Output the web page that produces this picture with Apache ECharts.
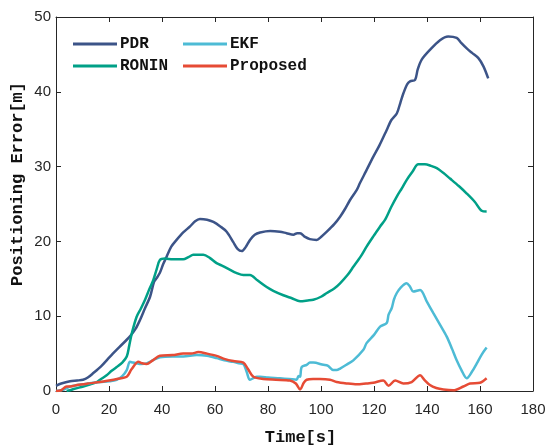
<!DOCTYPE html>
<html>
<head>
<meta charset="utf-8">
<script src="https://cdn.jsdelivr.net/npm/echarts@6/dist/echarts.min.js"></script>
<style>html,body{margin:0;padding:0;background:#fff;}#chart{width:547px;height:445px;}</style>
</head>
<body>
<div id="chart"></div>
<script>
var seriesNames = ['PDR', 'RONIN', 'EKF', 'Proposed'];
var xTicks = [0, 20, 40, 60, 80, 100, 120, 140, 160, 180];
var yTicks = [0, 10, 20, 30, 40, 50];

var pdrData = [[0,0.7],[2,1.0],[5.3,1.3],[8,1.4],[10.2,1.5],[12,1.8],[14.1,2.4],[17,3.3],[20.4,4.6],[24,5.9],[27.9,7.3],[30,8.3],[31.7,9.5],[33.5,11],[35.5,12.6],[37,14.6],[38,15.1],[39.2,15.8],[40.5,17],[41.8,18],[43.5,19.3],[45.5,20.2],[48,21.2],[50.6,22],[52.5,22.7],[54.3,23],[57,22.9],[59.4,22.6],[62,22],[64.4,21.3],[66.9,19.9],[68.5,19],[70.1,18.7],[71.5,19.2],[73.2,20.2],[75,20.9],[77,21.2],[80.8,21.4],[84.5,21.3],[87,21.1],[89.6,20.9],[91,21.1],[92.1,21.1],[94,20.6],[95.8,20.3],[98.4,20.2],[100,20.6],[102.2,21.3],[105,22.3],[107.2,23.3],[109,24.3],[110.9,25.5],[113.5,26.9],[114.7,27.8],[117,29.4],[119.7,31.3],[122,32.8],[124.8,34.9],[126.5,36.2],[128.6,37.1],[130,38.6],[131.1,39.8],[132.5,41],[133.6,41.4],[135.5,41.6],[136.5,43],[138,44.3],[141.1,45.6],[144.9,46.9],[148,47.4],[151.2,47.2],[153,46.5],[155,45.8],[157,45.2],[159.4,44.5],[161.3,43.4],[163.1,41.8]];

var roninData = [[4,0],[5.3,0.1],[7,0.3],[10.3,0.6],[13,0.9],[15.4,1.2],[17,1.6],[19.1,2.1],[21,2.7],[22.9,3.2],[25,3.8],[26.7,4.6],[27.6,6],[28.6,7.7],[30.4,9.9],[32,11],[33.6,12.2],[35.2,13.6],[36.7,14.8],[38,16.3],[39.2,17.5],[41.1,17.7],[44,17.6],[48,17.6],[50,17.9],[51.8,18.2],[55.6,18.2],[58,17.8],[60.6,17.1],[63,16.7],[65.7,16.2],[68,15.8],[70.7,15.5],[73.2,15.5],[76,14.8],[79.5,13.9],[82,13.4],[85.8,12.8],[89,12.4],[92.1,12],[95,12.1],[97.1,12.2],[100,12.6],[102.2,13.1],[105,13.7],[107.2,14.4],[110,15.5],[112.2,16.6],[115,18],[117.2,19.3],[120,20.8],[122.3,22],[124.2,22.9],[126.5,24.6],[128.6,26],[130.5,27.1],[132.3,28.2],[134.5,29.3],[136.7,30.3],[139.2,30.3],[141.5,30.1],[143.7,29.8],[146,29.2],[148.7,28.4],[152,27.4],[155,26.4],[158,25.3],[160.6,24.1],[162.5,24]];

var ekfData = [[0,0],[3,0.2],[5.3,0.6],[8,0.8],[12,1.0],[16.6,1.2],[20,1.3],[22.9,1.5],[25,2],[26.7,2.8],[27.9,3.9],[29,3.8],[30.4,3.7],[32,3.6],[34.2,3.7],[36.5,4.1],[39.2,4.5],[44,4.6],[48,4.6],[53.1,4.8],[57,4.7],[60.6,4.4],[63.5,4.1],[66.9,3.9],[69,3.7],[70.7,3.6],[72,2.5],[73.2,1.5],[75.7,1.9],[77,1.9],[80,1.8],[84.5,1.7],[88,1.6],[90.8,1.5],[91.5,2],[92.1,1.9],[92.7,3.2],[94.6,3.5],[95.8,3.8],[97.1,3.8],[100.9,3.5],[102.5,3.4],[104.6,2.8],[105.9,2.8],[107.2,3.0],[110,3.6],[112.2,4.1],[116,5.5],[117.2,6.4],[120,7.5],[122.3,8.6],[124.8,9.1],[125.5,10.2],[126.7,11.1],[127.5,12.2],[128.6,13.1],[130,13.8],[132.3,14.4],[133.5,14],[134.8,13.3],[137.4,13.5],[140,11.9],[142.4,10.4],[145,8.8],[147.4,7.3],[149.5,5.6],[151.2,4.1],[153,2.8],[155,1.7],[157,2.6],[158.8,3.7],[160.7,4.9],[162.5,5.8]];

var proposedData = [[0,0],[2,0.1],[4,0.6],[5.3,0.6],[8,0.8],[12,1.0],[16.6,1.2],[20,1.4],[23,1.6],[26.7,1.9],[28.5,2.9],[31.1,3.9],[32.5,3.7],[34.2,3.6],[36.5,4.1],[39.2,4.7],[44,4.8],[48,5.0],[51,5.0],[53.7,5.2],[57,5.0],[60.6,4.7],[63.5,4.3],[66.9,4.0],[70.7,3.8],[72.5,2.9],[74.5,1.9],[78.2,1.6],[83,1.5],[88.3,1.4],[90.5,1.0],[92.1,0.2],[93.5,1.1],[94.6,1.5],[97,1.6],[99.6,1.6],[103.4,1.5],[105.9,1.2],[110,1.0],[113.5,0.9],[117,1.0],[119.7,1.1],[123.5,1.4],[125.5,0.7],[128,1.4],[131.1,1.0],[134.2,1.2],[137.4,2.1],[139,1.5],[141.1,0.8],[143.5,0.4],[146.2,0.2],[149.9,0.1],[153.7,0.6],[156.2,1.0],[160,1.1],[162.5,1.7]];

var colors = {PDR:'#3C5488', RONIN:'#00A087', EKF:'#4DBBD5', Proposed:'#E64B35'};
var dataMap = {PDR: pdrData, RONIN: roninData, EKF: ekfData, Proposed: proposedData};
var drawOrder = ['PDR', 'RONIN', 'EKF', 'Proposed'];

var axisColor = '#262626';
var tickFont = {fontFamily: 'Liberation Sans, Arial, sans-serif', fontSize: 15, color: '#262626'};
var monoBold = {fontFamily: 'Liberation Mono, Courier New, monospace', fontWeight: 'bold', color: '#111'};

function xAxisCfg(pos, showLabel) {
  return {
    type: 'value', position: pos, min: xTicks[0], max: xTicks[xTicks.length-1], interval: 20,
    splitLine: {show: false},
    axisLine: {show: true, onZero: false, lineStyle: {color: axisColor, width: 1}},
    axisTick: {show: true, inside: true, length: 5, lineStyle: {color: axisColor}},
    axisLabel: Object.assign({show: showLabel, margin: 11}, tickFont),
    name: showLabel ? 'Time[s]' : '', nameLocation: 'middle', nameGap: 38,
    nameMoveOverlap: false,
    nameTextStyle: Object.assign({fontSize: 17, padding: [0,0,0,12]}, monoBold)
  };
}
function yAxisCfg(pos, showLabel) {
  return {
    type: 'value', position: pos, min: yTicks[0], max: yTicks[yTicks.length-1], interval: 10,
    splitLine: {show: false},
    axisLine: {show: true, onZero: false, lineStyle: {color: axisColor, width: 1}},
    axisTick: {show: true, inside: true, length: 5, lineStyle: {color: axisColor}},
    axisLabel: Object.assign({show: showLabel, margin: 5}, tickFont),
    name: showLabel ? 'Positioning Error[m]' : '', nameLocation: 'middle', nameGap: 30,
    nameMoveOverlap: false,
    nameTextStyle: Object.assign({fontSize: 17, padding: [0,0,0,40]}, monoBold)
  };
}

var legendBase = {
  orient: 'vertical', top: 31, itemWidth: 44, itemHeight: 3, itemGap: 6,
  icon: 'rect',
  textStyle: Object.assign({fontSize: 16, padding: [0,0,0,-2]}, monoBold)
};

var chart = echarts.init(document.getElementById('chart'), null, {renderer: 'canvas'});
chart.setOption({
  animation: false,
  backgroundColor: '#fff',
  grid: {left: 56, right: 14, top: 17, bottom: 54, containLabel: false, outerBoundsMode: 'none'},
  legend: [
    Object.assign({left: 68, data: ['PDR', 'RONIN']}, legendBase),
    Object.assign({left: 178, data: ['EKF', 'Proposed']}, legendBase)
  ],
  xAxis: [xAxisCfg('bottom', true), xAxisCfg('top', false)],
  yAxis: [yAxisCfg('left', true), yAxisCfg('right', false)],
  series: drawOrder.map(function(n){
    return {
      name: n, type: 'line', data: dataMap[n], xAxisIndex: 0, yAxisIndex: 0,
      showSymbol: false, symbol: 'none', smooth: 0.3,
      lineStyle: {color: colors[n], width: 2.5},
      itemStyle: {color: colors[n]}
    };
  })
});
</script>
</body>
</html>
